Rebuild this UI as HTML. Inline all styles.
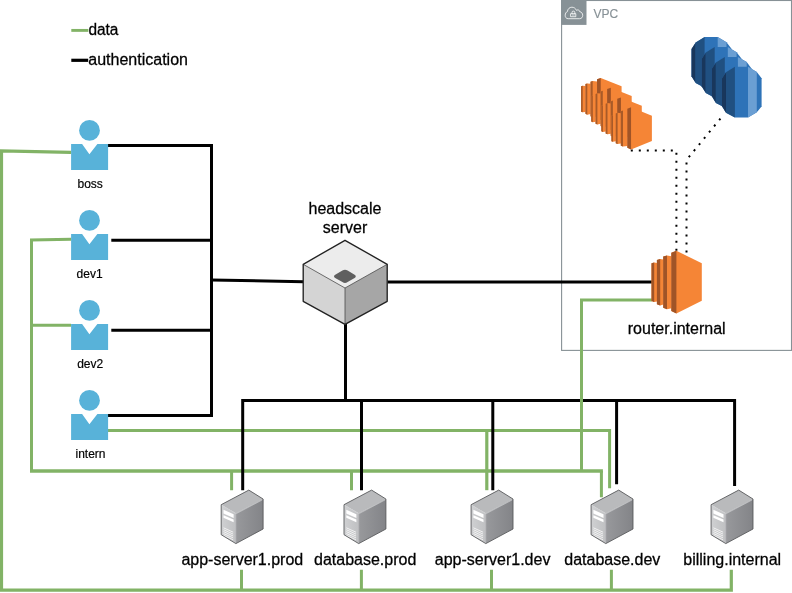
<!DOCTYPE html>
<html>
<head>
<meta charset="utf-8">
<title>headscale network diagram</title>
<style>
html,body{margin:0;padding:0;background:#ffffff;}
body{width:792px;height:593px;overflow:hidden;font-family:"Liberation Sans",sans-serif;}
svg{display:block;position:absolute;left:0;top:0;will-change:transform;opacity:0.999;}
text{font-family:"Liberation Sans",sans-serif;fill:#000;}
.g{stroke:#82b366;stroke-width:3;fill:none;stroke-linejoin:miter;stroke-linecap:butt;}
.k{stroke:#000;stroke-width:3;fill:none;stroke-linejoin:miter;stroke-linecap:butt;}
.d{stroke:#000;stroke-width:2;fill:none;stroke-dasharray:2 6;}
.t16{font-size:16px;stroke:#000;stroke-width:0.28px;}
.t12{font-size:12px;stroke:#000;stroke-width:0.2px;}
</style>
</head>
<body>
<svg width="792" height="593" viewBox="0 0 792 593">
<defs>
  <!-- user icon: origin at body top-left -->
  <g id="user">
    <circle cx="18.4" cy="-13.6" r="10.4" fill="#58b2d9"/>
    <path d="M0,0 H11 L18.3,10.2 L26.3,0 H37 V26 H0 Z" fill="#58b2d9"/>
  </g>
  <!-- EC2 instance 50.3 x 62.7 -->
  <g id="ec2">
    <path d="M0,12.4 L2.7,11.6 L5.6,12.1 V50.6 L2.7,51.2 L0,50.3 Z" fill="#f58536"/>
    <path d="M0,12.4 L2.7,11.6 V51.2 L0,50.3 Z" fill="#a05427"/>
    <path d="M5.4,9.2 L8.7,8.2 L11.9,8.8 V53.7 L8.7,54.6 L5.4,53.4 Z" fill="#f58536"/>
    <path d="M5.4,9.2 L8.7,8.2 V54.6 L5.4,53.4 Z" fill="#a05427"/>
    <path d="M11.7,5.8 L15.5,4.6 L20,5.4 V57.4 L15.5,58.4 L11.7,57 Z" fill="#f58536"/>
    <path d="M11.7,5.8 L15.5,4.6 V58.4 L11.7,57 Z" fill="#a05427"/>
    <path d="M19.8,2 L24.9,0 L50.3,12.4 V49.9 L24.9,62.7 L19.8,60.1 Z" fill="#f58536"/>
    <path d="M19.8,2 L24.9,0 V62.7 L19.8,60.1 Z" fill="#a05427"/>
  </g>
  <!-- small EC2 instance used in the stack (thinner dark sides) -->
  <g id="ec2s">
    <path d="M0,12.4 L2,11.6 L5.6,12.1 V50.6 L2,51.2 L0,50.3 Z" fill="#f58536"/>
    <path d="M0,12.4 L2,11.6 V51.2 L0,50.3 Z" fill="#a85a28"/>
    <path d="M5.4,9.2 L7.7,8.2 L11.9,8.8 V53.7 L7.7,54.6 L5.4,53.4 Z" fill="#f58536"/>
    <path d="M5.4,9.2 L7.7,8.2 V54.6 L5.4,53.4 Z" fill="#a85a28"/>
    <path d="M11.7,5.8 L14.4,4.6 L20,5.4 V57.4 L14.4,58.4 L11.7,57 Z" fill="#f58536"/>
    <path d="M11.7,5.8 L14.4,4.6 V58.4 L11.7,57 Z" fill="#a85a28"/>
    <path d="M19.8,2 L24.4,0 L50.3,12.4 V49.9 L24.4,62.7 L19.8,60.1 Z" fill="#f58536"/>
    <path d="M19.8,2 L24.4,0 V62.7 L19.8,60.1 Z" fill="#a05427"/>
  </g>
  <!-- RDS-like disc 40.3 x 50.6 -->
  <g id="rds">
    <path d="M13.1,0 H26.2 L35,5.2 L39.8,11.5 V39.7 L35,45.5 L26.2,50.7 H13.1 L4.2,46 L0,39.2 V12 L4.2,5.5 Z" fill="#2e73b8"/>
    <path d="M0,12 L4.2,5.5 V46 L0,39.2 Z" fill="#19375c"/>
    <path d="M4.2,5.5 L13.1,0 V50.7 L4.2,46 Z" fill="#205081"/>
    <path d="M26.2,0 L35,5.2 V45.5 L26.2,50.7 Z" fill="#6b9fd3"/>
  </g>
  <!-- server 42 x 54, origin at left edge x / apex y -->
  <linearGradient id="sg" x1="0" y1="0" x2="1" y2="0"><stop offset="0" stop-color="#98999c"/><stop offset="1" stop-color="#838488"/></linearGradient>
  <linearGradient id="sf" x1="0" y1="0" x2="1" y2="0"><stop offset="0" stop-color="#cfd0d2"/><stop offset="1" stop-color="#bfc0c2"/></linearGradient>
  <g id="srv">
    <path d="M27.6,0 L41.9,8.9 L14.7,23.2 L0,14.6 Z" fill="#b9babc"/>
    <path d="M0,14.6 L14.7,23.2 V53.5 L0,44.6 Z" fill="url(#sf)"/>
    <path d="M14.7,23.2 L41.9,8.9 V38.9 L14.7,53.5 Z" fill="url(#sg)"/>
    <path d="M0.6,15.4 L14.7,23.7 L41.3,9.7" fill="none" stroke="#d0d1d3" stroke-width="0.7"/>
    <path d="M14.9,23.6 V53" fill="none" stroke="#a9aaad" stroke-width="0.8"/>
    <path d="M2.3,19.6 L12.4,24.1 V27.9 L2.3,23.4 Z" fill="#fff"/>
    <path d="M2.3,25.1 L12.4,29.5 V32.1 L2.3,27.6 Z" fill="#fff"/>
    <path d="M2.3,37.7 L12,42.1 M2.3,39.6 L12,44 M2.3,41.5 L12,45.9 M2.3,43.4 L12,47.8 M2.3,45.3 L12,49.7" stroke="#fff" stroke-width="0.75" fill="none"/>
    <path d="M27.6,0 L41.9,8.9 V38.9 L14.7,53.5 L0,44.6 V14.6 Z" fill="none" stroke="#58595b" stroke-width="0.9" stroke-linejoin="round"/>
  </g>
</defs>

<!-- VPC group -->
<rect x="561.6" y="0.5" width="229.9" height="349.9" fill="none" stroke="#879196" stroke-width="1.1"/>
<rect x="561.1" y="0" width="25.4" height="24.9" fill="#879196"/>
<g fill="none" stroke="#fff" stroke-width="0.8" stroke-linejoin="round" stroke-linecap="round">
  <path d="M567.8,18.7 C566,18.7 565.2,17 565.2,15.3 C565.2,13.5 566.1,12 567.4,11.6 C567.6,9.1 569.5,7.2 571.9,7.2 C574,7.2 575.7,8.5 576.5,10.4 C577.1,9.9 577.8,9.8 578.4,10 C579.2,10.3 579.6,10.8 579.7,11.6 C581.5,12 582.7,13.4 582.7,15.3 C582.7,17.2 581.6,18.7 579.9,18.7 Z"/>
  <rect x="571" y="13.7" width="4.8" height="3"/>
  <path d="M572,13.7 V12.5 A1.4,1.4 0 0 1 574.8,12.5 V13.7"/>
  <path d="M572.4,15 H574.4" stroke-width="0.6"/>
</g>
<text x="593.4" y="17.7" class="t12" style="fill:#879196;stroke:#879196;stroke-width:0.15px">VPC</text>

<!-- green (data) edges -->
<path class="g" d="M71.1,152.4 L1.5,150.9 V590.1 H731.3 V569.8" style="stroke-width:3.2"/>
<path class="g" d="M241.5,569.8 V590.1 M361.4,569.8 V590.1 M491.5,569.8 V590.1 M611.4,569.8 V590.1"/>
<path class="g" d="M71.1,239.2 L31.5,240 V471"/>
<path class="g" d="M30,471 H602.9" style="stroke-width:3.7"/>
<path class="g" d="M601.4,471 V497.3"/>
<path class="g" d="M31.5,325.3 H71.1"/>
<path class="g" d="M108,430.4 H609.6 V488.2"/>
<path class="g" d="M231.6,471 V490.2 M351.5,471 V490.2"/>
<path class="g" d="M486.8,430.4 V490.2" style="stroke-width:3.2"/>

<!-- black (authentication) edges -->
<path class="k" d="M108,145.5 H211.5 V415.5 H108"/>
<path class="k" d="M111.3,240.2 H211.5 M111.3,330.2 H211.5"/>
<path class="k" d="M211.5,280 L303.5,281.8"/>
<path class="k" d="M387.5,282 H652"/>
<path class="k" d="M345.5,324 V400.5"/>
<path class="k" d="M242.7,490.2 V400.5 H734.6 V485.9"/>
<path class="k" d="M361.5,400.5 V490.2 M492.8,400.5 V490.2 M616.6,400.5 V484.3"/>

<!-- green router edge (above black bus) -->
<path class="g" d="M652,300 H581.5 V471"/>

<!-- dotted edges -->
<path class="d" d="M630.8,150.4 H676.4 V252"/>
<path class="d" d="M720.43,118.53 L686.5,160 V258"/>

<!-- legend -->
<path class="g" d="M71.3,30.4 H88.4" style="stroke-width:2.9"/>
<path class="k" d="M71.3,60.3 H88.2" style="stroke-width:3.2"/>
<text x="88.4" y="34.5" class="t16" textLength="30" lengthAdjust="spacingAndGlyphs">data</text>
<text x="88.3" y="64.6" class="t16">authentication</text>

<!-- users -->
<use href="#user" x="71.1" y="144"/>
<use href="#user" x="71.1" y="234"/>
<use href="#user" x="71.1" y="324"/>
<use href="#user" x="71.1" y="414"/>
<text x="90.2" y="187.6" class="t12" text-anchor="middle">boss</text>
<text x="89.6" y="277.6" class="t12" text-anchor="middle">dev1</text>
<text x="90.2" y="367.6" class="t12" text-anchor="middle">dev2</text>
<text x="90.5" y="457.6" class="t12" text-anchor="middle">intern</text>

<!-- headscale cube -->
<g stroke-linejoin="round">
  <path d="M345,240.3 L387.2,264.3 L345,288 L303.2,264.3 Z" fill="#ececec"/>
  <path d="M303.2,264.3 L345,288 V324.4 L303.2,301.3 Z" fill="#d4d4d4"/>
  <path d="M345,288 L387.2,264.3 V301.3 L345,324.4 Z" fill="#a6a6a6"/>
  <path d="M303.2,264.3 L345,288 L387.2,264.3 M345,288 V324.4" fill="none" stroke="#4a4a4a" stroke-width="0.8"/>
  <path d="M345,240.3 L387.2,264.3 V301.3 L345,324.4 L303.2,301.3 V264.3 Z" fill="none" stroke="#222" stroke-width="1.35"/>
  <path d="M342.4,270.6 Q345,268.9 347.6,270.6 L354.6,274.7 Q357,276.3 354.6,277.9 L347.6,282.1 Q345,283.8 342.4,282.1 L335.2,277.9 Q332.8,276.3 335.2,274.7 Z" fill="#5f5f5f"/>
</g>
<text x="345" y="213.6" class="t16" text-anchor="middle">headscale</text>
<text x="345" y="232.6" class="t16" text-anchor="middle">server</text>

<!-- VPC contents -->
<g id="ec2stack">
  <use href="#ec2s" transform="translate(581.1,77.9) scale(0.805,0.673)"/>
  <use href="#ec2s" transform="translate(591.2,87.7) scale(0.805,0.673)"/>
  <use href="#ec2s" transform="translate(601.3,97.5) scale(0.805,0.673)"/>
  <use href="#ec2s" transform="translate(611.4,107.3) scale(0.805,0.673)"/>
</g>
<g id="rdsstack">
  <use href="#rds" x="691.5" y="37.1"/>
  <use href="#rds" x="701.6" y="47"/>
  <use href="#rds" x="711.7" y="56.9"/>
  <use href="#rds" x="721.8" y="66.8"/>
</g>
<use href="#ec2" x="651.5" y="250.8"/>
<text x="676.7" y="333.6" class="t16" text-anchor="middle">router.internal</text>

<!-- servers -->
<use href="#srv" x="221.2" y="490.1"/>
<use href="#srv" x="344" y="490.1"/>
<use href="#srv" x="471.1" y="490.1"/>
<use href="#srv" x="591.1" y="490.1"/>
<use href="#srv" x="711.1" y="490.1"/>
<text x="242.3" y="564.6" class="t16" text-anchor="middle">app-server1.prod</text>
<text x="365.2" y="564.6" class="t16" text-anchor="middle">database.prod</text>
<text x="492.6" y="564.6" class="t16" text-anchor="middle">app-server1.dev</text>
<text x="612.3" y="564.6" class="t16" text-anchor="middle">database.dev</text>
<text x="732.2" y="564.6" class="t16" text-anchor="middle">billing.internal</text>
</svg>
</body>
</html>
